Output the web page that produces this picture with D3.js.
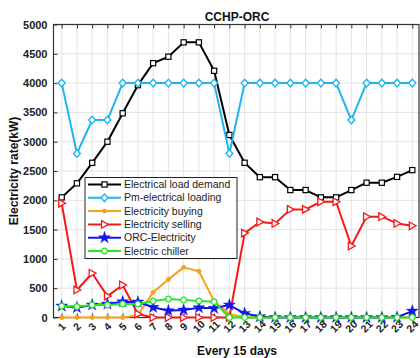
<!DOCTYPE html>
<html><head><meta charset="utf-8">
<script src="https://cdn.jsdelivr.net/npm/d3@7"></script>
<style>body{margin:0;background:#fff}svg{display:block}text{font-family:"Liberation Sans",Arial,sans-serif}</style>
</head><body>
<script>
const days = d3.range(1, 25);
const yTicks = [0,500,1000,1500,2000,2500,3000,3500,4000,4500,5000];
const loadDemand = [2050,2290,2640,3000,3485,3965,4340,4450,4695,4695,4210,3115,2640,2395,2395,2175,2175,2050,2050,2175,2300,2300,2400,2515];
const pmLoading  = [4000,2800,3370,3370,4000,4000,4000,4000,4000,4000,4000,2800,4000,4000,4000,4000,4000,4000,4000,3370,4000,4000,4000,4000];
const buying     = [0,0,0,0,0,40,430,650,855,790,280,60,0,0,0,0,0,0,0,0,0,0,0,0];
const selling    = [1950,470,755,365,555,60,0,0,0,0,0,0,1440,1630,1605,1845,1845,1975,1975,1220,1720,1720,1605,1565];
const orc        = [196,168,215,230,270,265,174,116,128,168,157,213,71,14,0,0,0,0,0,0,0,0,5,110];
const chiller    = [196,185,213,213,230,230,282,316,299,282,270,0,0,0,0,0,0,0,0,0,0,0,0,0];

const W = 420, H = 358;
const box = {l:53.5, r:419, t:24.5, b:317.5};
const svg = d3.select("body").append("svg").attr("width", W).attr("height", H);
const x = d3.scaleLinear().domain([1,24]).range([61.7,412.3]);
const y = d3.scaleLinear().domain([0,5000]).range([box.b, box.t]);

// grid
const g = svg.append("g");
g.selectAll(".vg").data(days).enter().append("line")
  .attr("x1", d=>x(d)).attr("x2", d=>x(d)).attr("y1", box.t).attr("y2", box.b)
  .attr("stroke", "#e4e4e4").attr("stroke-width", 1);
g.selectAll(".hg").data(yTicks).enter().append("line")
  .attr("x1", box.l).attr("x2", box.r).attr("y1", d=>y(d)).attr("y2", d=>y(d))
  .attr("stroke", "#e4e4e4").attr("stroke-width", 1);

// axes box
svg.append("rect").attr("x", box.l).attr("y", box.t).attr("width", box.r-box.l).attr("height", box.b-box.t)
  .attr("fill", "none").attr("stroke", "#333").attr("stroke-width", 1.2);

// y axis
const yAxis = d3.axisLeft(y).tickValues(yTicks).tickFormat(d3.format("d")).tickSizeInner(-4).tickSizeOuter(0).tickPadding(6);
const ya = svg.append("g").attr("transform", `translate(${box.l},0)`).call(yAxis);
ya.select(".domain").remove();
ya.selectAll("line").attr("stroke", "#333");
ya.selectAll("text").attr("font-size", 11).attr("font-weight", "bold").attr("fill", "#222");

// x axis ticks (bottom and top)
const xa = svg.append("g").attr("transform", `translate(0,${box.b})`)
  .call(d3.axisBottom(x).tickValues(days).tickSizeInner(-4).tickSizeOuter(0).tickFormat(""));
xa.select(".domain").remove();
xa.selectAll("line").attr("stroke", "#333");
const xt = svg.append("g").attr("transform", `translate(0,${box.t})`)
  .call(d3.axisTop(x).tickValues(days).tickSizeInner(-4).tickSizeOuter(0).tickFormat(""));
xt.select(".domain").remove();
xt.selectAll("line").attr("stroke", "#333");
svg.append("g").selectAll("text").data(days).enter().append("text")
  .attr("transform", d=>`translate(${x(d)},${box.b+9}) rotate(-45)`)
  .attr("text-anchor", "middle").attr("dy", "0.35em")
  .attr("font-size", 10.5).attr("font-weight", "bold").attr("fill", "#222")
  .text(d=>d);

// titles
svg.append("text").attr("x", 237).attr("y", 21).attr("text-anchor", "middle")
  .attr("font-size", 12).attr("font-weight", "bold").attr("fill", "#111").text("CCHP-ORC");
svg.append("text").attr("x", 237).attr("y", 355).attr("text-anchor", "middle")
  .attr("font-size", 12).attr("font-weight", "bold").attr("fill", "#111").text("Every 15 days");
svg.append("text").attr("transform", `translate(14,${(box.t+box.b)/2}) rotate(-90)`).attr("text-anchor", "middle")
  .attr("dy", "0.35em").attr("font-size", 12).attr("font-weight", "bold").attr("fill", "#111").text("Electricity rate(kW)");

// markers
const triRight = "M-3,-3.8L3.8,0L-3,3.8Z";
const series = [
  {name:"Electrical load demand", vals:loadDemand, color:"#000000", marker:"square"},
  {name:"Pm-electrical loading", vals:pmLoading, color:"#1eb4f0", marker:"diamond"},
  {name:"Electricity buying", vals:buying, color:"#f7a11d", marker:"dot"},
  {name:"Electricity selling", vals:selling, color:"#f41a1a", marker:"tri"},
  {name:"ORC-Electricity", vals:orc, color:"#1515ee", marker:"star"},
  {name:"Electric chiller", vals:chiller, color:"#22e622", marker:"circle"}
];
function drawMarker(sel, m, color){
  if (m==="square") sel.append("rect").attr("x",-2.6).attr("y",-2.6).attr("width",5.2).attr("height",5.2).attr("fill","#fff").attr("stroke",color).attr("stroke-width",1.2);
  else if (m==="diamond") sel.append("path").attr("d","M0,-3.8L3.4,0L0,3.8L-3.4,0Z").attr("fill","#fff").attr("stroke",color).attr("stroke-width",1.4);
  else if (m==="dot") sel.append("circle").attr("r",2.4).attr("fill",color);
  else if (m==="tri") sel.append("path").attr("d",triRight).attr("fill","#fff").attr("stroke",color).attr("stroke-width",1.3);
  else if (m==="star") sel.append("path").attr("d",d3.symbol(d3.symbolStar,45)()).attr("fill",color).attr("stroke",color).attr("stroke-width",0.4);
  else if (m==="circle") sel.append("circle").attr("r",2.8).attr("fill","#fff").attr("stroke",color).attr("stroke-width",1.3);
}
const line = d3.line().x((d,i)=>x(days[i])).y(d=>y(d));
series.forEach(s=>{
  const sg = svg.append("g");
  sg.append("path").attr("d", line(s.vals)).attr("fill","none").attr("stroke", s.color).attr("stroke-width", 2).attr("stroke-linejoin","round");
  s.vals.forEach((v,i)=>{
    const mg = sg.append("g").attr("transform", `translate(${x(days[i])},${y(v)})`);
    drawMarker(mg, s.marker, s.color);
  });
});

// legend
const lg = svg.append("g");
lg.append("rect").attr("x", 85).attr("y", 177.5).attr("width", 152).attr("height", 81)
  .attr("fill", "#fff").attr("stroke", "#222").attr("stroke-width", 1);
series.forEach((s,i)=>{
  const yy = 184.5 + i*13.3;
  lg.append("line").attr("x1", 88).attr("x2", 121).attr("y1", yy).attr("y2", yy).attr("stroke", s.color).attr("stroke-width", 2);
  drawMarker(lg.append("g").attr("transform", `translate(104.5,${yy})`), s.marker, s.color);
  lg.append("text").attr("x", 124).attr("y", yy).attr("dy", "0.35em").attr("font-size", 10.5).attr("fill", "#222").text(s.name);
});
</script>
</body></html>
